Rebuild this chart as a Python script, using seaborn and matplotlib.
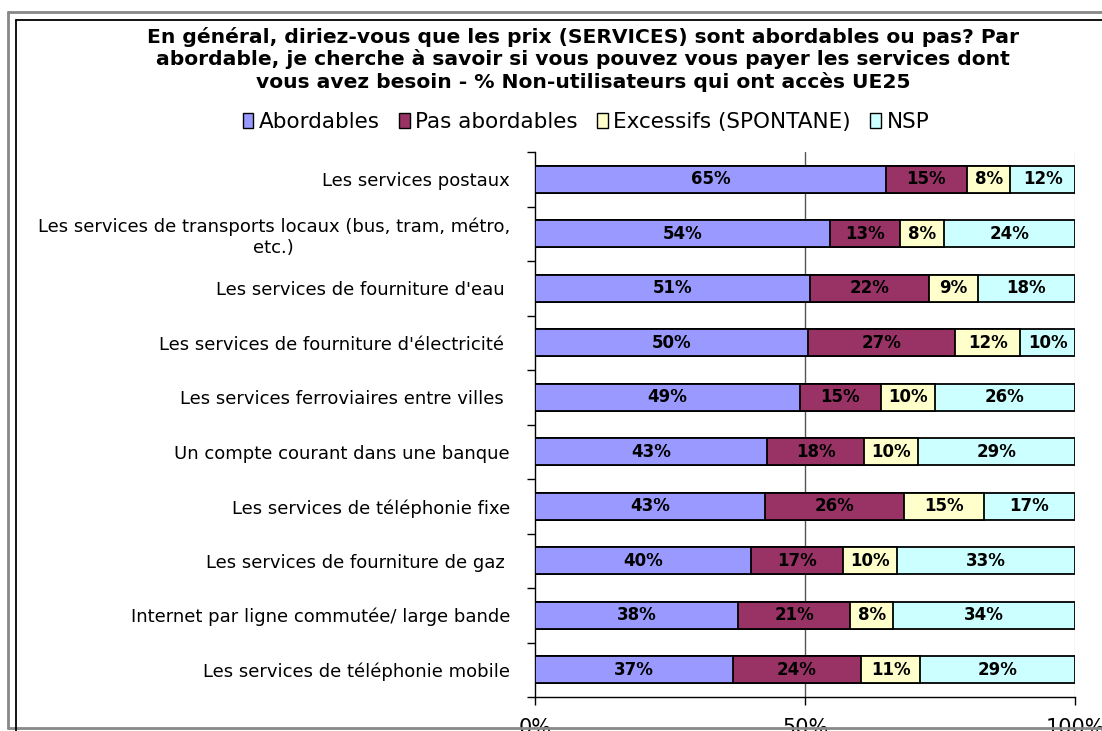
import matplotlib
matplotlib.use("Agg")
import matplotlib.pyplot as plt
import seaborn as sns
import numpy as np
import pandas as pd
from matplotlib.patches import Patch
from matplotlib.lines import Line2D

categories = [
    "Les services postaux",
    "Les services de transports locaux (bus, tram, métro,\netc.)",
    "Les services de fourniture d'eau ",
    "Les services de fourniture d'électricité ",
    "Les services ferroviaires entre villes ",
    "Un compte courant dans une banque",
    "Les services de téléphonie fixe",
    "Les services de fourniture de gaz ",
    "Internet par ligne commutée/ large bande",
    "Les services de téléphonie mobile",
]
abordables = [65, 54, 51, 50, 49, 43, 43, 40, 38, 37]
pas_abordables = [15, 13, 22, 27, 15, 18, 26, 17, 21, 24]
excessifs = [8, 8, 9, 12, 10, 10, 15, 10, 8, 11]
nsp = [12, 24, 18, 10, 26, 29, 17, 33, 34, 29]
series_names = ["Abordables", "Pas abordables", "Excessifs (SPONTANE)", "NSP"]
colors = ["#9999FF", "#993366", "#FFFFCC", "#CCFFFF"]
tick_values = [0, 50, 100]
tick_labels = ["0%", "50%", "100%"]
title = ("En général, diriez-vous que les prix (SERVICES) sont abordables ou pas? Par\n"
         "abordable, je cherche à savoir si vous pouvez vous payer les services dont\n"
         "vous avez besoin - % Non-utilisateurs qui ont accès UE25")

sns.set_theme(style="white")
plt.rcParams['font.family'] = ['DejaVu Sans']
plt.rcParams['text.color'] = 'black'
plt.rcParams['xtick.color'] = 'black'
plt.rcParams['ytick.color'] = 'black'
plt.rcParams['axes.labelcolor'] = 'black'

vals = np.array([abordables, pas_abordables, excessifs, nsp], dtype=float)
totals = vals.sum(axis=0)
shares = vals / totals * 100
cum = np.cumsum(shares, axis=0)

fig = plt.figure(figsize=(11.02, 7.31), dpi=100)
W, H = 1102, 731
ax = fig.add_axes([535 / W, 1 - 697 / H, 540 / W, 545 / H])

# draw from largest cumulative to smallest
for i in range(3, -1, -1):
    df = pd.DataFrame({"cat": categories, "val": cum[i]})
    sns.barplot(data=df, x="val", y="cat", order=categories, orient="h",
                color=colors[i], edgecolor="black", linewidth=1.3,
                width=0.5, saturation=1, ax=ax, zorder=3)

# value labels
for i in range(4):
    start = cum[i] - shares[i]
    for j in range(len(categories)):
        ax.text(start[j] + shares[i][j] / 2, j, f"{int(vals[i][j])}%",
                ha="center", va="center", fontsize=12, fontweight="bold",
                color="black", zorder=5)

ax.set_xlim(0, 100)
ax.set_ylim(len(categories) - 0.5, -0.5)
ax.set_xlabel("")
ax.set_ylabel("")

# gridlines
ax.axvline(50, color="#555555", lw=1, zorder=1)
ax.axvline(100, color="#cccccc", lw=1, zorder=1)

for s in ["top", "right"]:
    ax.spines[s].set_visible(False)
for s in ["left", "bottom"]:
    ax.spines[s].set_visible(True)
    ax.spines[s].set_color("black")
    ax.spines[s].set_linewidth(1)

ax.set_xticks(tick_values)
ax.set_xticklabels(tick_labels, fontsize=15, color="black")
ax.tick_params(axis="x", direction="out", length=6, width=1, color="black",
               pad=9, bottom=True)
ax.set_yticks(range(len(categories)))
ax.set_yticklabels(categories, fontsize=13, multialignment="center", color="black")
ax.tick_params(axis="y", which="major", length=0, pad=18)
ax.set_yticks(np.arange(-0.5, len(categories) + 0.5, 1), minor=True)
ax.tick_params(axis="y", which="minor", direction="out", length=6, width=1,
               color="black", left=True)

# title
fig.text(583 / W, 1 - 27 / H, title, ha="center", va="top", fontsize=14.6,
         fontweight="bold", linespacing=1.15, color="black")

# legend
handles = [Patch(facecolor=c, edgecolor="black", linewidth=1) for c in colors]
leg = fig.legend(handles, series_names, loc="center", ncol=4,
                 bbox_to_anchor=(586 / W, 1 - 122 / H), frameon=False,
                 fontsize=15.5, handlelength=0.5, handleheight=0.7,
                 handletextpad=0.25, columnspacing=0.9)
for t in leg.get_texts():
    t.set_color("black")

# frames
fig.add_artist(Line2D([8 / W, 8 / W], [1 - 12 / H, 1 - 728 / H], color="#888888", lw=2, transform=fig.transFigure))
fig.add_artist(Line2D([8 / W, 1.0], [1 - 12 / H, 1 - 12 / H], color="#888888", lw=2, transform=fig.transFigure))
fig.add_artist(Line2D([8 / W, 1.0], [1 - 728 / H, 1 - 728 / H], color="#888888", lw=2, transform=fig.transFigure))
fig.add_artist(Line2D([16 / W, 16 / W], [1 - 20 / H, 0], color="black", lw=1.3, transform=fig.transFigure))
fig.add_artist(Line2D([16 / W, 1.0], [1 - 20 / H, 1 - 20 / H], color="black", lw=1.3, transform=fig.transFigure))

fig.savefig("out.png", dpi=100)
